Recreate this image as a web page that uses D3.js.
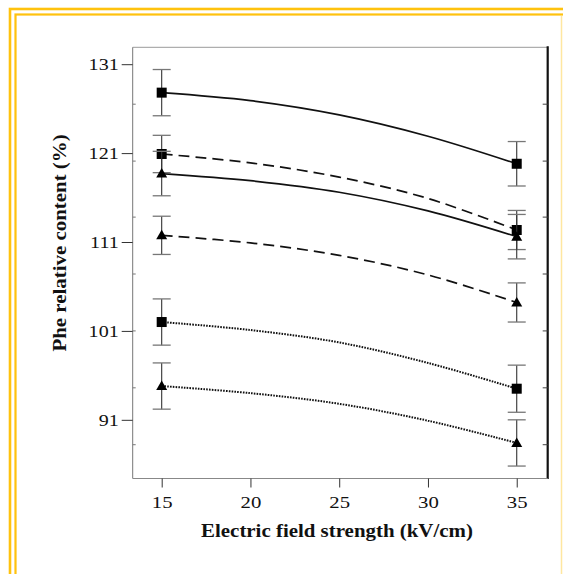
<!DOCTYPE html>
<html>
<head>
<meta charset="utf-8">
<script src="https://cdn.jsdelivr.net/npm/d3@7"></script>
<style>
  html, body { margin: 0; padding: 0; background: #fff; }
  svg { display: block; }
  text { font-family: "Liberation Serif", "Times New Roman", serif; fill: #111; }
</style>
</head>
<body>
<svg id="chart" width="563" height="574"></svg>
<script>
// Electric field strength (kV/cm) sampled along each fitted curve
const fieldStrength = [15, 20, 25, 30, 35];
// field strengths where measurements (markers + error bars) were taken
const measuredAt = [15, 35];

// Phe relative content (%) along each curve
const seriesSquareSolid    = [127.8, 126.9, 125.3, 122.9, 119.8];
const seriesSquareDashed   = [120.9, 119.9, 118.3, 115.9, 112.35];
const seriesTriangleSolid  = [118.7, 117.9, 116.6, 114.5, 111.6];
const seriesTriangleDashed = [111.75, 110.9, 109.5, 107.3, 104.2];
const seriesSquareDotted   = [102.0, 101.1, 99.7, 97.4, 94.5];
const seriesTriangleDotted = [94.8, 94.0, 92.8, 90.9, 88.4];

// standard deviations at 15 and 35 kV/cm
const errSquareSolid    = [2.6, 2.5];
const errSquareDashed   = [2.1, 2.2];
const errTriangleSolid  = [2.5, 2.5];
const errTriangleDashed = [2.15, 2.2];
const errSquareDotted   = [2.6, 2.65];
const errTriangleDotted = [2.6, 2.6];

const marker = ["square", "square", "triangle", "triangle", "square", "triangle"];
const dash = ["solid", "dashed", "solid", "dashed", "dotted", "dotted"];

const xTicks = [15, 20, 25, 30, 35];
const yTicks = [131, 121, 111, 101, 91];
const yInnerTicks = [126.5, 120.1, 113.8, 107.4, 101.0, 94.6, 88.2];

const xLabel = "Electric field strength (kV/cm)";
const yLabel = "Phe relative content (%)";

const series = [
  seriesSquareSolid, seriesSquareDashed, seriesTriangleSolid,
  seriesTriangleDashed, seriesSquareDotted, seriesTriangleDotted
];
const errors = [
  errSquareSolid, errSquareDashed, errTriangleSolid,
  errTriangleDashed, errSquareDotted, errTriangleDotted
];

const svg = d3.select("#chart");

// widen a text element along its baseline (the typeface here is set wide)
function widen(sel, factor) {
  sel.each(function () {
    const len = this.getComputedTextLength();
    d3.select(this).attr("textLength", len * factor).attr("lengthAdjust", "spacingAndGlyphs");
  });
}

// decorative gold frame
const gold = "#FFC20E";
svg.append("rect").attr("x", 10).attr("y", 9).attr("width", 600).attr("height", 600)
  .attr("fill", "none").attr("stroke", gold).attr("stroke-width", 2.6);
svg.append("rect").attr("x", 15.5).attr("y", 14.5).attr("width", 600).attr("height", 600)
  .attr("fill", "none").attr("stroke", gold).attr("stroke-width", 2.2);
svg.append("line").attr("x1", 561.5).attr("x2", 561.5).attr("y1", 16).attr("y2", 574)
  .attr("stroke", "#FFE7A0").attr("stroke-width", 1.5);

const plot = { left: 132.7, right: 547.7, top: 47.3, bottom: 478.5 };

const x = d3.scaleLinear().domain([13.367, 36.745]).range([plot.left, plot.right]);
const y = d3.scaleLinear().domain([84.4, 132.9]).range([plot.bottom, plot.top]);

// frame of the plot area
svg.append("line").attr("x1", plot.left).attr("x2", plot.right)
  .attr("y1", plot.top).attr("y2", plot.top).attr("stroke", "#9a9a9a").attr("stroke-width", 1);
svg.append("line").attr("x1", plot.right).attr("x2", plot.right)
  .attr("y1", plot.top - 1).attr("y2", plot.bottom + 0.5).attr("stroke", "#111").attr("stroke-width", 2.2);

// left axis
const yAxis = d3.axisLeft(y).tickValues(yTicks).tickSize(11).tickPadding(3).tickFormat(d3.format("d"));
const gy = svg.append("g").attr("transform", `translate(${plot.left},0)`).call(yAxis);
gy.select(".domain").attr("stroke", "#777").attr("d", `M0,${plot.top}V${plot.bottom}`);
gy.selectAll(".tick line").attr("stroke", "#333");
gy.selectAll(".tick text").style("font-family", "Liberation Serif").style("font-size", "17px").attr("fill", "#222");
widen(gy.selectAll(".tick text"), 1.18);

// inner secondary ticks on both vertical sides
svg.append("g").selectAll("line").data(yInnerTicks).join("line")
  .attr("x1", plot.left).attr("x2", plot.left + 3)
  .attr("y1", d => y(d)).attr("y2", d => y(d)).attr("stroke", "#777");
svg.append("g").selectAll("line").data(yInnerTicks).join("line")
  .attr("x1", plot.right - 5).attr("x2", plot.right)
  .attr("y1", d => y(d)).attr("y2", d => y(d)).attr("stroke", "#444");

// bottom axis
const xAxis = d3.axisBottom(x).tickValues(xTicks).tickSize(9).tickPadding(8).tickFormat(d3.format("d"));
const gx = svg.append("g").attr("transform", `translate(0,${plot.bottom})`).call(xAxis);
gx.select(".domain").attr("stroke", "#888").attr("d", `M${plot.left},0H${plot.right}`);
gx.selectAll(".tick line").attr("stroke", "#333");
gx.selectAll(".tick text").style("font-family", "Liberation Serif").style("font-size", "17px").attr("fill", "#222");
widen(gx.selectAll(".tick text"), 1.22);

// axis titles
const xt = svg.append("text").attr("x", 337).attr("y", 537).attr("text-anchor", "middle")
  .style("font-size", "19px").style("font-weight", "bold").text(xLabel);
widen(xt, 1.1);
const yt = svg.append("text").attr("transform", `translate(66,${243}) rotate(-90)`).attr("text-anchor", "middle")
  .style("font-size", "19px").style("font-weight", "bold").text(yLabel);
widen(yt, 1.1);

// curves
const line = d3.line().x(d => x(d[0])).y(d => y(d[1])).curve(d3.curveCatmullRom.alpha(0.5));
const dashArray = { solid: null, dashed: "11,6", dotted: "1.6,1.2" };
const dashWidth = { solid: 1.7, dashed: 1.7, dotted: 2 };

series.forEach((vals, i) => {
  const pts = fieldStrength.map((f, j) => [f, vals[j]]);
  svg.append("path").attr("d", line(pts)).attr("fill", "none")
    .attr("stroke", "#111").attr("stroke-width", dashWidth[dash[i]])
    .attr("stroke-dasharray", dashArray[dash[i]]);
});

// error bars and markers at the measured field strengths
series.forEach((vals, i) => {
  measuredAt.forEach((f, k) => {
    const v = vals[fieldStrength.indexOf(f)];
    const e = errors[i][k];
    const cx = x(f);
    const g = svg.append("g");
    g.append("line").attr("x1", cx).attr("x2", cx).attr("y1", y(v - e)).attr("y2", y(v + e))
      .attr("stroke", "#333").attr("stroke-width", 1.1);
    [v - e, v + e].forEach(b => {
      g.append("line").attr("x1", cx - 9).attr("x2", cx + 9).attr("y1", y(b)).attr("y2", y(b))
        .attr("stroke", "#777").attr("stroke-width", 1.3);
    });
    const cy = y(v);
    if (marker[i] === "square") {
      g.append("rect").attr("x", cx - 5).attr("y", cy - 5).attr("width", 10).attr("height", 10).attr("fill", "#000");
    } else {
      g.append("path").attr("d", `M${cx},${cy - 5.5}L${cx + 5.5},${cy + 4}L${cx - 5.5},${cy + 4}Z`).attr("fill", "#000");
    }
  });
});
</script>
</body>
</html>
